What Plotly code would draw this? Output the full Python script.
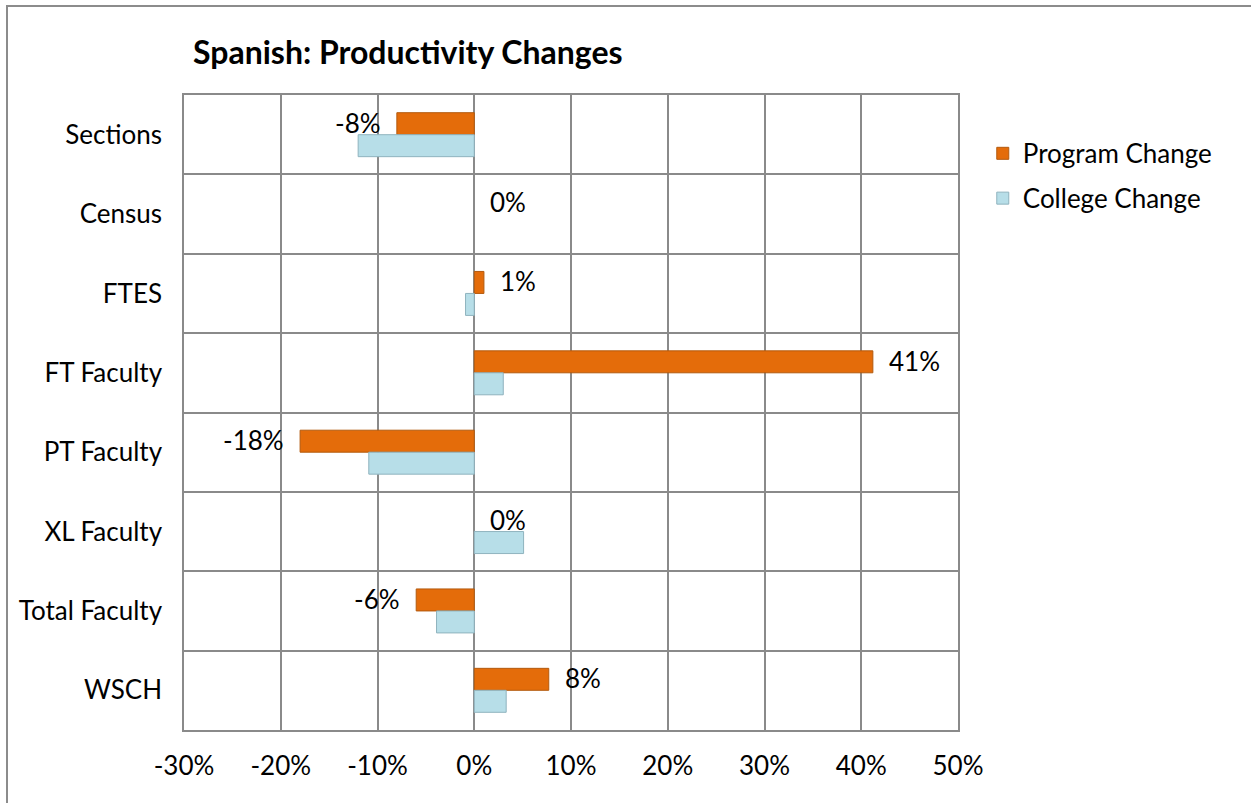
import plotly.graph_objects as go

categories = ["Sections", "Census", "FTES", "FT Faculty", "PT Faculty",
              "XL Faculty", "Total Faculty", "WSCH"]
program_change = [-0.08, 0.0, 0.01, 0.412, -0.18, 0.0, -0.06, 0.077]
college_change = [-0.12, 0.0, -0.009, 0.03, -0.109, 0.051, -0.039, 0.033]
program_labels = ["-8%", "0%", "1%", "41%", "-18%", "0%", "-6%", "8%"]
x_ticks = [-0.3, -0.2, -0.1, 0.0, 0.1, 0.2, 0.3, 0.4, 0.5]
x_tick_labels = ["-30%", "-20%", "-10%", "0%", "10%", "20%", "30%", "40%", "50%"]

FONT = "Lato"
TXT = "#000000"
GRID = "#8A8A8A"
FS = 26

fig = go.Figure()
fig.add_trace(go.Bar(
    y=categories, x=program_change, orientation="h", name="Program Change",
    legendgroup="p",
    marker=dict(color="#E46C0A",
                line=dict(color="#B35A0E", width=[0 if v == 0 else 1 for v in program_change])),
))
fig.add_trace(go.Bar(
    y=categories, x=college_change, orientation="h", name="College Change",
    legendgroup="c",
    marker=dict(color="#B7DEE8",
                line=dict(color="#8FB3BE", width=[0 if v == 0 else 1 for v in college_change])),
))

annotations = []
for cat, val, lab in zip(categories, program_change, program_labels):
    neg = val < 0
    annotations.append(dict(
        x=val, y=cat, xref="x", yref="y", text=lab, showarrow=False,
        xanchor="right" if neg else "left", yanchor="middle",
        xshift=-14 if neg else 14, yshift=12,
        font=dict(family=FONT, size=FS, color=TXT),
    ))

fig.update_layout(
    width=1251, height=803,
    paper_bgcolor="white", plot_bgcolor="white",
    margin=dict(l=184, r=293, t=95, b=73),
    barmode="group", bargap=0.446, bargroupgap=0,
    title=dict(text="<b>Spanish: Productivity Changes</b>", x=0.326, xanchor="center",
               y=0.934, yanchor="middle",
               font=dict(family=FONT, size=32, color=TXT)),
    font=dict(family=FONT, size=FS, color=TXT),
    legend=dict(x=1.032, y=0.945, xanchor="left", yanchor="top",
                font=dict(family=FONT, size=FS, color=TXT),
                bgcolor="rgba(0,0,0,0)", traceorder="grouped", tracegroupgap=8,
                itemwidth=30),
    annotations=annotations,
    shapes=[dict(type="rect", xref="paper", yref="paper",
                 x0=(7 - 184) / 774, x1=1.5, y0=-0.3, y1=1 + (95 - 6) / 635,
                 line=dict(color="#8C8C8C", width=2), fillcolor="rgba(0,0,0,0)",
                 layer="below")],
)
fig.update_xaxes(range=[-0.3, 0.5], tickvals=x_ticks, ticktext=x_tick_labels,
                 showgrid=True, gridcolor=GRID, gridwidth=1.5,
                 zeroline=True, zerolinecolor=GRID, zerolinewidth=1.5,
                 showline=True, linecolor=GRID, linewidth=1.5, mirror=True,
                 ticks="", ticklabelstandoff=12,
                 tickfont=dict(family=FONT, size=FS, color=TXT))
fig.update_yaxes(autorange="reversed",
                 showline=True, linecolor=GRID, linewidth=1.5, mirror=True,
                 ticks="", ticklabelstandoff=15,
                 tickson="boundaries", showgrid=True, gridcolor=GRID, gridwidth=1.5,
                 tickfont=dict(family=FONT, size=FS, color=TXT))

fig.write_html("out.html", config={"displayModeBar": False},
               post_script="document.body.style.margin='0px';")
